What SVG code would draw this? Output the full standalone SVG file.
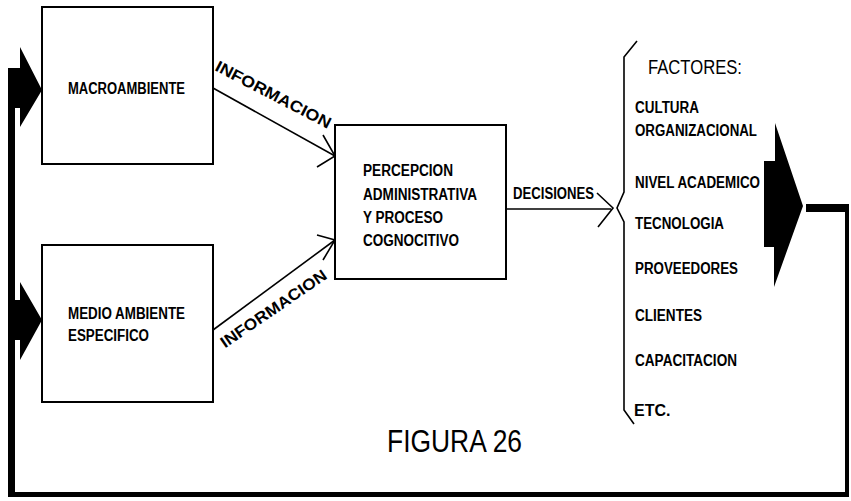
<svg xmlns="http://www.w3.org/2000/svg" width="851" height="501" viewBox="0 0 851 501">
<style>
.box{fill:#fff;stroke:#000;stroke-width:2}
.t{font-family:"Liberation Sans Narrow","Liberation Sans",Arial,sans-serif;font-weight:bold;font-size:16px;fill:#000}
.ln{fill:none;stroke:#000;stroke-width:1.6}
.thick{fill:#000;stroke:none}
</style>
<rect width="851" height="501" fill="#fff"/>
<g id="connectors">
  <line class="ln" x1="213" y1="88" x2="335" y2="156"/>
  <polyline class="ln" points="323,135 335,156 317,167"/>
  <line class="ln" x1="213" y1="330" x2="335" y2="240"/>
  <polyline class="ln" points="317,235 335,240 323,260"/>
  <line class="ln" x1="506" y1="209" x2="611" y2="209"/>
  <polyline class="ln" points="597,193 613,208 598,227"/>
  <text class="t" transform="translate(214,70) rotate(27.4)" textLength="128" lengthAdjust="spacingAndGlyphs">INFORMACION</text>
  <text class="t" transform="translate(224.9,348.6) rotate(-34.4)" textLength="125" lengthAdjust="spacingAndGlyphs">INFORMACION</text>
  <text class="t" x="513" y="199" textLength="81" lengthAdjust="spacingAndGlyphs">DECISIONES</text>
  <rect class="thick" x="8" y="68" width="7" height="429"/>
  <polygon class="thick" points="8,68 20,68 20,47 42,90 20,127 20,108 8,108"/>
  <polygon class="thick" points="15,300 20,300 20,282 42,320 20,360 20,340 15,340"/>
  <polygon class="thick" points="775,123 803,206 774,287 774,247 764,247 764,161 775,161"/>
  <rect class="thick" x="806" y="204" width="43" height="8"/>
  <rect class="thick" x="845" y="204" width="4" height="293"/>
  <rect class="thick" x="8" y="492" width="841" height="5"/>
</g>
<g id="macroambiente">
  <rect class="box" x="42" y="7" width="171" height="157"/>
  <text class="t" x="68" y="94" textLength="117" lengthAdjust="spacingAndGlyphs">MACROAMBIENTE</text>
</g>
<g id="medio-ambiente">
  <rect class="box" x="42" y="245" width="171" height="157"/>
  <text class="t" x="68" y="319" textLength="117" lengthAdjust="spacingAndGlyphs">MEDIO AMBIENTE</text>
  <text class="t" x="68" y="341" textLength="81" lengthAdjust="spacingAndGlyphs">ESPECIFICO</text>
</g>
<g id="percepcion">
  <rect class="box" x="335" y="125" width="171" height="154"/>
  <text class="t" x="363" y="176" textLength="90" lengthAdjust="spacingAndGlyphs">PERCEPCION</text>
  <text class="t" x="363" y="200" textLength="114" lengthAdjust="spacingAndGlyphs">ADMINISTRATIVA</text>
  <text class="t" x="363" y="223" textLength="80" lengthAdjust="spacingAndGlyphs">Y PROCESO</text>
  <text class="t" x="363" y="246" textLength="96" lengthAdjust="spacingAndGlyphs">COGNOCITIVO</text>
</g>
<g id="factores">
  <path class="ln" d="M637,41 L624,57 L624,192 L617,208 L624,222 L624,410 L634,424"/>
  <text class="t" x="648" y="74" style="font-size:20px;font-weight:normal" textLength="94" lengthAdjust="spacingAndGlyphs">FACTORES:</text>
  <text class="t" x="635" y="113" textLength="64" lengthAdjust="spacingAndGlyphs">CULTURA</text>
  <text class="t" x="635" y="136" textLength="122" lengthAdjust="spacingAndGlyphs">ORGANIZACIONAL</text>
  <text class="t" x="635" y="188" textLength="125" lengthAdjust="spacingAndGlyphs">NIVEL ACADEMICO</text>
  <text class="t" x="635" y="229" textLength="89" lengthAdjust="spacingAndGlyphs">TECNOLOGIA</text>
  <text class="t" x="635" y="274" textLength="103" lengthAdjust="spacingAndGlyphs">PROVEEDORES</text>
  <text class="t" x="635" y="321" textLength="67" lengthAdjust="spacingAndGlyphs">CLIENTES</text>
  <text class="t" x="635" y="366" textLength="102" lengthAdjust="spacingAndGlyphs">CAPACITACION</text>
  <text class="t" x="634" y="416">ETC.</text>
</g>
<g id="titulo">
  <text class="t" x="387" y="452" style="font-size:32px;font-weight:normal" textLength="135" lengthAdjust="spacingAndGlyphs">FIGURA 26</text>
</g>
</svg>
